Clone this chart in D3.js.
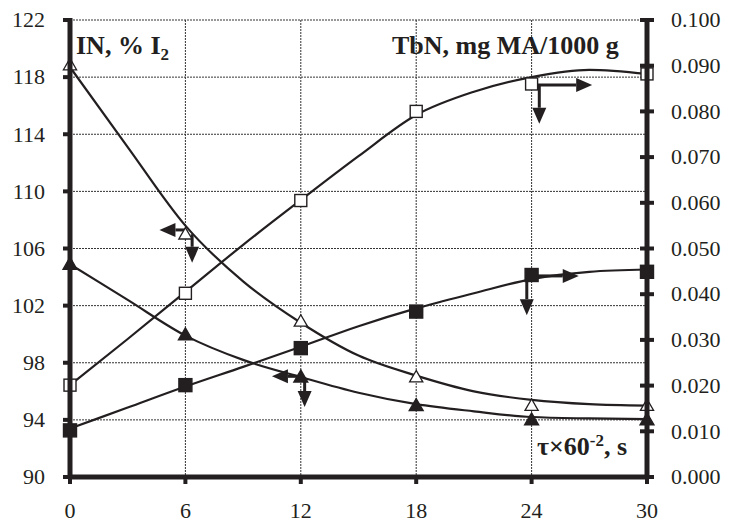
<!DOCTYPE html>
<html>
<head>
<meta charset="utf-8">
<script src="https://cdn.jsdelivr.net/npm/d3@7"></script>
<style>
  body { margin: 0; background: #fff; }
  svg { display: block; }
  text { font-family: "Liberation Serif", "Times New Roman", serif; fill: #231f20; }
</style>
</head>
<body>
<script>
// time axis of the measured points
const xValues = [0, 6, 12, 18, 24, 30];
// IN, % I2 (left axis)
const inOpen = [118.85, 107, 100.9, 97, 95, 95];
const inFilled = [104.9, 99.95, 97, 95, 94, 94];
// TbN, mg MA/1000 g (right axis)
const tbnOpen = [0.0201, 0.0402, 0.0605, 0.0800, 0.0860, 0.0882];
const tbnFilled = [0.0102, 0.0201, 0.0282, 0.0362, 0.0442, 0.0449];

// trend curves, every 3 units of time
const trendX = [0, 3, 6, 9, 12, 15, 18, 21, 24, 27, 30];
const inOpenTrend = [118.7, 113.1, 107.6, 103.7, 100.8, 98.5, 97.1, 96.0, 95.4, 95.1, 95.0];
const inFilledTrend = [104.9, 102.4, 99.9, 98.2, 97.0, 95.9, 95.1, 94.6, 94.2, 94.1, 94.05];
const tbnOpenTrend = [0.0201, 0.0302, 0.0405, 0.0508, 0.0606, 0.0702, 0.0792, 0.0843, 0.0875, 0.0891, 0.0882];
const tbnFilledTrend = [0.0106, 0.0152, 0.0198, 0.0241, 0.0285, 0.0330, 0.0369, 0.0402, 0.0433, 0.0449, 0.0454];

const leftTicks = [90, 94, 98, 102, 106, 110, 114, 118, 122];
const rightTicks = [0, 0.01, 0.02, 0.03, 0.04, 0.05, 0.06, 0.07, 0.08, 0.09, 0.1];
const xTicks = [0, 6, 12, 18, 24, 30];

// annotation arrows: which axis, start point, end point (data units)
const arrows = [
    { axis: 'left', from: [6, 107.3], to: [4.65, 107.3] },
    { axis: 'left', from: [6.35, 107], to: [6.35, 105] },
    { axis: 'left', from: [12, 97.05], to: [10.5, 97.05] },
    { axis: 'left', from: [12.2, 97], to: [12.2, 94.9] },
    { axis: 'right', from: [24, 0.0858], to: [27.15, 0.0858] },
    { axis: 'right', from: [24.4, 0.086], to: [24.4, 0.0773] },
    { axis: 'right', from: [24, 0.0440], to: [26.45, 0.0440] },
    { axis: 'right', from: [23.75, 0.0442], to: [23.75, 0.0354] }
];

const width = 734;
const height = 524;

const xScale = d3.scaleLinear().domain([0, 30]).range([70, 647]);
const yLeft = d3.scaleLinear().domain([90, 122]).range([477, 20]);
const yRight = d3.scaleLinear().domain([0, 0.1]).range([477, 20]);

const svg = d3.select('body')
    .append('svg')
    .attr('width', width)
    .attr('height', height);

// grid
svg.append('g')
    .selectAll('line')
    .data(leftTicks.slice(1))
    .enter()
    .append('line')
    .attr('x1', xScale(0))
    .attr('x2', xScale(30))
    .attr('y1', (d) => yLeft(d))
    .attr('y2', (d) => yLeft(d))
    .attr('stroke', '#333')
    .attr('stroke-width', 1)
    .attr('stroke-dasharray', '2,1');

svg.append('g')
    .selectAll('line')
    .data(xTicks.slice(1, -1))
    .enter()
    .append('line')
    .attr('x1', (d) => xScale(d))
    .attr('x2', (d) => xScale(d))
    .attr('y1', yLeft(122))
    .attr('y2', yLeft(90))
    .attr('stroke', '#333')
    .attr('stroke-width', 1)
    .attr('stroke-dasharray', '2,1');

// trend curves
const lineLeft = d3.line()
    .x((d, i) => xScale(trendX[i]))
    .y((d) => yLeft(d))
    .curve(d3.curveMonotoneX);

const lineRight = d3.line()
    .x((d, i) => xScale(trendX[i]))
    .y((d) => yRight(d))
    .curve(d3.curveMonotoneX);

[[inOpenTrend, lineLeft], [inFilledTrend, lineLeft], [tbnOpenTrend, lineRight], [tbnFilledTrend, lineRight]]
    .forEach(([data, gen]) => {
        svg.append('path')
            .attr('d', gen(data))
            .attr('fill', 'none')
            .attr('stroke', '#231f20')
            .attr('stroke-width', 2.2);
    });

// arrows
arrows.forEach((a) => {
    const yS = a.axis === 'left' ? yLeft : yRight;
    const x1 = xScale(a.from[0]), y1 = yS(a.from[1]);
    const x2 = xScale(a.to[0]), y2 = yS(a.to[1]);
    const ang = Math.atan2(y2 - y1, x2 - x1);
    const len = 16, half = 7;
    const bx = x2 - len * Math.cos(ang), by = y2 - len * Math.sin(ang);
    svg.append('line')
        .attr('x1', x1).attr('y1', y1)
        .attr('x2', bx).attr('y2', by)
        .attr('stroke', '#231f20')
        .attr('stroke-width', 3);
    svg.append('path')
        .attr('d', 'M' + x2 + ',' + y2 +
            'L' + (bx + half * Math.sin(ang)) + ',' + (by - half * Math.cos(ang)) +
            'L' + (bx - half * Math.sin(ang)) + ',' + (by + half * Math.cos(ang)) + 'Z')
        .attr('fill', '#231f20');
});

// markers
function triangles(data, fill, size) {
    svg.append('g')
        .selectAll('path')
        .data(data)
        .enter()
        .append('path')
        .attr('d', d3.symbol().type(d3.symbolTriangle).size(size))
        .attr('transform', (d, i) => 'translate(' + xScale(xValues[i]) + ',' + (yLeft(d) + 1) + ')')
        .attr('fill', fill)
        .attr('stroke', '#231f20')
        .attr('stroke-width', 1.3);
}

function squares(data, fill, size) {
    svg.append('g')
        .selectAll('rect')
        .data(data)
        .enter()
        .append('rect')
        .attr('x', (d, i) => xScale(xValues[i]) - size / 2)
        .attr('y', (d) => yRight(d) - size / 2)
        .attr('width', size)
        .attr('height', size)
        .attr('fill', fill)
        .attr('stroke', '#231f20')
        .attr('stroke-width', 1.4);
}

triangles(inOpen, '#fff', 75);
triangles(inFilled, '#231f20', 85);
squares(tbnOpen, '#fff', 12);
squares(tbnFilled, '#231f20', 13);

// axes
const axisColor = '#231f20';

svg.append('line')
    .attr('x1', xScale(0)).attr('x2', xScale(0))
    .attr('y1', yLeft(122) - 2).attr('y2', yLeft(90) + 2)
    .attr('stroke', axisColor).attr('stroke-width', 5);

svg.append('line')
    .attr('x1', xScale(30)).attr('x2', xScale(30))
    .attr('y1', yRight(0.1) - 2).attr('y2', yRight(0) + 2)
    .attr('stroke', axisColor).attr('stroke-width', 5);

svg.append('line')
    .attr('x1', xScale(0) - 2).attr('x2', xScale(30) + 2)
    .attr('y1', yLeft(90)).attr('y2', yLeft(90))
    .attr('stroke', axisColor).attr('stroke-width', 5);

// left ticks
svg.append('g')
    .selectAll('line')
    .data(leftTicks)
    .enter()
    .append('line')
    .attr('x1', xScale(0) - 7).attr('x2', xScale(0))
    .attr('y1', (d) => yLeft(d)).attr('y2', (d) => yLeft(d))
    .attr('stroke', axisColor).attr('stroke-width', 4);

svg.append('g')
    .selectAll('text')
    .data(leftTicks)
    .enter()
    .append('text')
    .attr('x', 45)
    .attr('y', (d) => yLeft(d))
    .attr('dy', '0.33em')
    .attr('text-anchor', 'end')
    .style('font-size', '22px')
    .text((d) => d);

// right ticks
svg.append('g')
    .selectAll('line')
    .data(rightTicks)
    .enter()
    .append('line')
    .attr('x1', xScale(30) - 7).attr('x2', xScale(30) + 7)
    .attr('y1', (d) => yRight(d)).attr('y2', (d) => yRight(d))
    .attr('stroke', axisColor).attr('stroke-width', 4);

svg.append('g')
    .selectAll('text')
    .data(rightTicks)
    .enter()
    .append('text')
    .attr('x', 671)
    .attr('y', (d) => yRight(d))
    .attr('dy', '0.33em')
    .style('font-size', '22px')
    .text((d) => d3.format('.3f')(d));

// bottom ticks
svg.append('g')
    .selectAll('line')
    .data(xTicks)
    .enter()
    .append('line')
    .attr('x1', (d) => xScale(d)).attr('x2', (d) => xScale(d))
    .attr('y1', yLeft(90)).attr('y2', yLeft(90) + 7)
    .attr('stroke', axisColor).attr('stroke-width', 4);

svg.append('g')
    .selectAll('text')
    .data(xTicks)
    .enter()
    .append('text')
    .attr('x', (d) => xScale(d))
    .attr('y', 518)
    .attr('text-anchor', 'middle')
    .style('font-size', '22px')
    .text((d) => d);

// axis titles
const inLabel = svg.append('text')
    .attr('x', 76)
    .attr('y', 54)
    .style('font-size', '26px')
    .style('font-weight', 'bold');
inLabel.append('tspan').text('IN, % I');
inLabel.append('tspan').attr('dy', 6).style('font-size', '17px').text('2');

svg.append('text')
    .attr('x', 392)
    .attr('y', 54)
    .style('font-size', '26px')
    .style('font-weight', 'bold')
    .text('TbN, mg MA/1000 g');

const tLabel = svg.append('text')
    .attr('x', 537)
    .attr('y', 455)
    .style('font-size', '26px')
    .style('font-weight', 'bold');
tLabel.append('tspan').text('τ×60');
tLabel.append('tspan').attr('dy', -9).style('font-size', '17px').text('-2');
tLabel.append('tspan').attr('dy', 9).text(', s');
</script>
</body>
</html>
